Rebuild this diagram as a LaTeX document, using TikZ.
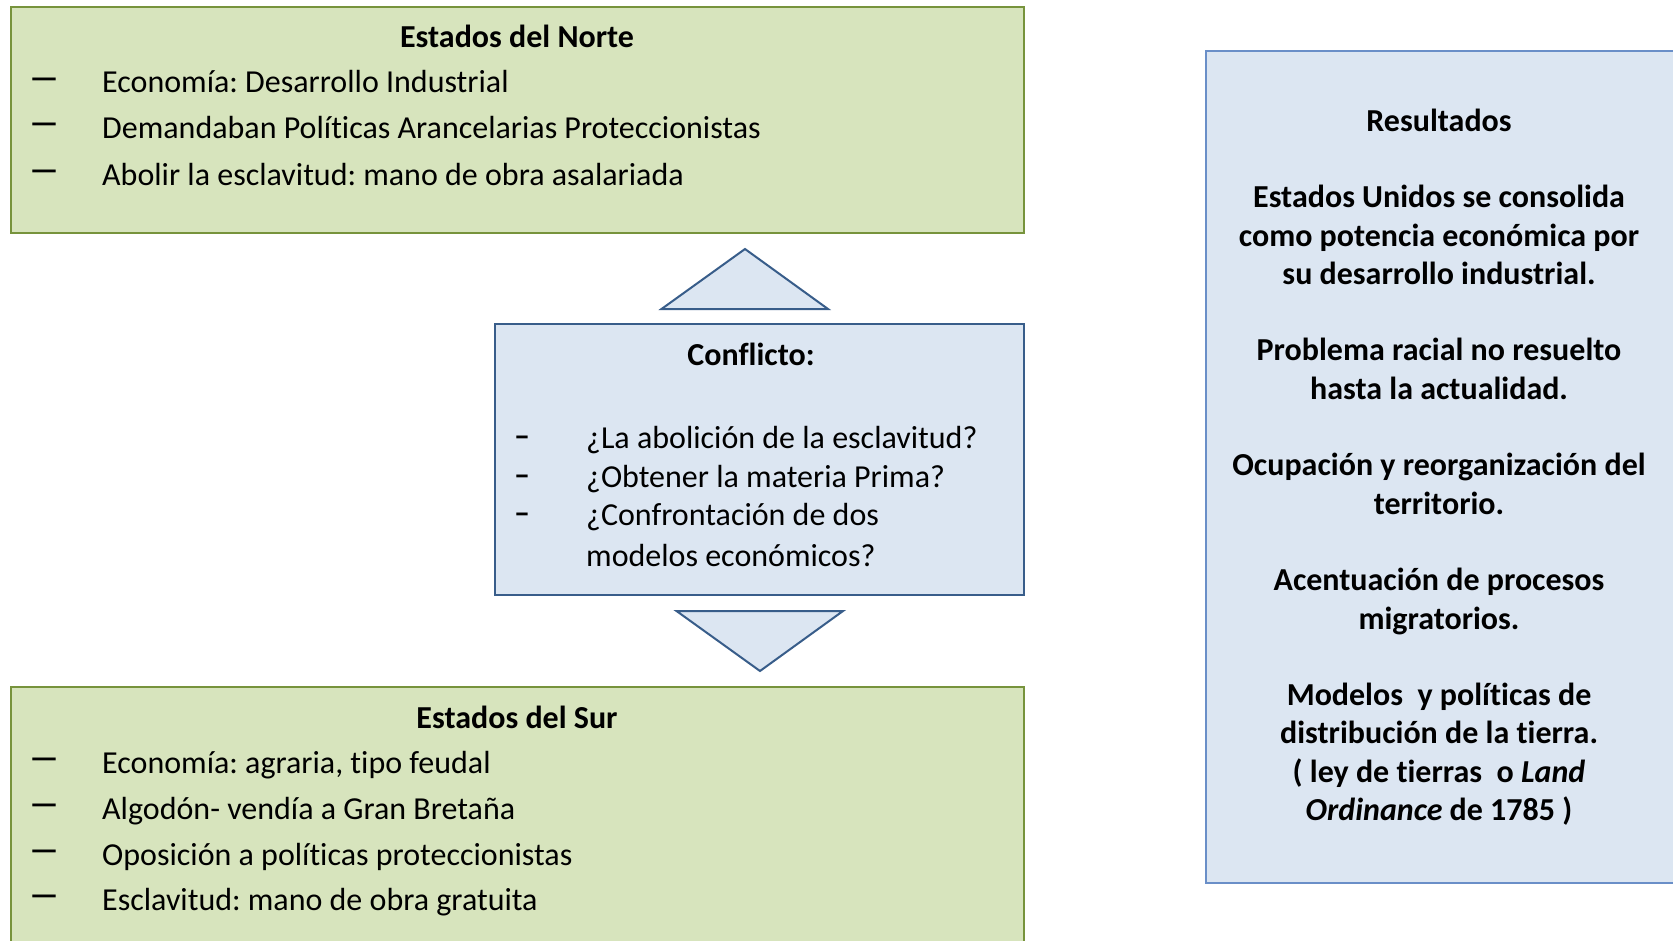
\documentclass[tikz,border=0pt]{standalone}
\usepackage{fontspec}
\setmainfont{Carlito}[Ligatures=NoCommon]
\definecolor{gfill}{HTML}{D7E4BD}
\definecolor{gline}{HTML}{77933C}
\definecolor{bfill}{HTML}{DCE6F2}
\definecolor{bline}{HTML}{385D8A}
\definecolor{rline}{HTML}{6A8FC8}
\tikzset{
  gbox/.style={draw=gline, fill=gfill, line width=2pt, inner sep=0pt},
  bbox/.style={draw=bline, fill=bfill, line width=2pt, inner sep=0pt},
  rbox/.style={draw=rline, fill=bfill, line width=2pt, inner sep=0pt},
  tri/.style={draw=bline, fill=bfill, line width=2pt, line join=miter},
  txt/.style={font=\fontsize{32}{38}\selectfont, inner sep=0pt, anchor=west},
  ttl/.style={font=\fontsize{32}{38}\selectfont\bfseries, inner sep=0pt},
  bdash/.style={font=\fontsize{32}{38}\selectfont\bfseries, inner sep=0pt},
  ndash/.style={font=\fontsize{32}{38}\selectfont\bfseries, inner sep=0pt},
  res/.style={font=\fontsize{32}{38.3}\selectfont\bfseries, inner sep=0pt, align=center}
}
\frenchspacing
\begin{document}
\begin{tikzpicture}[x=1pt,y=-1pt]
\useasboundingbox (0,0) rectangle (1673,940);
\clip (0,0) rectangle (1673,940);
\fill[white] (0,0) rectangle (1673,940);
% North box
\node[gbox, minimum width=1013pt, minimum height=226pt] (north) at (517.4,119.5) {};
\node[ttl] (ntitle) at (517,36) {Estados del Norte};
\node[bdash] (nd1) at (44,83) {—};
\node[bdash] (nd2) at (44,128) {—};
\node[bdash] (nd3) at (44,175) {—};
\node[txt] (n1) at (102,82) {Economía: Desarrollo Industrial};
\node[txt] (n2) at (102,128) {Demandaban Políticas Arancelarias Proteccionistas};
\node[txt] (n3) at (102,175) {Abolir la esclavitud: mano de obra asalariada};
% up triangle
\draw[tri] (661.5,309) -- (745,249) -- (828,309) -- cycle;
% Conflict box
\node[bbox, minimum width=529pt, minimum height=271pt] (conf) at (759.5,459.5) {};
\node[ttl] (ctitle) at (751,354) {Conflicto:};
\node[ndash] (cd1) at (522,441) {–};
\node[ndash] (cd2) at (522,480) {–};
\node[ndash] (cd3) at (522,518) {–};
\node[txt] (c1) at (586,440) {¿La abolición de la esclavitud?};
\node[txt] (c2) at (586,479) {¿Obtener la materia Prima?};
\node[txt] (c3) at (586,517) {¿Confrontación de dos};
\node[txt] (c4) at (586,555) {modelos económicos?};
% down triangle
\draw[tri] (676.5,611) -- (843,611) -- (760,671) -- cycle;
% South box
\node[gbox, minimum width=1013pt, minimum height=263pt] (south) at (517.4,818.5) {};
\node[ttl] (stitle) at (517,717) {Estados del Sur};
\node[bdash] (sd1) at (44,763) {—};
\node[bdash] (sd2) at (44,809) {—};
\node[bdash] (sd3) at (44,855) {—};
\node[bdash] (sd4) at (44,900) {—};
\node[txt] (s1) at (102,765) {Economía: agraria, tipo feudal};
\node[txt] (s2) at (102,811) {Algodón- vendía a Gran Bretaña};
\node[txt] (s3) at (102,857) {Oposición a políticas proteccionistas};
\node[txt] (s4) at (102,902) {Esclavitud: mano de obra gratuita};
% Resultados box
\node[rbox, minimum width=478pt, minimum height=832pt] (resbox) at (1444.6,467) {};
\node[res] (restxt) at (1439,467) {Resultados\\[38.3pt]
Estados Unidos se consolida\\como potencia económica por\\su desarrollo industrial.\\[38.3pt]
Problema racial no resuelto\\hasta la actualidad.\\[38.3pt]
Ocupación y reorganización del\\territorio.\\[38.3pt]
Acentuación de procesos\\migratorios.\\[38.3pt]
Modelos\ \ y políticas de\\distribución de la tierra.\\( ley de tierras\ \ o \textit{Land}\\\textit{Ordinance} de 1785 )};
\end{tikzpicture}
\end{document}
